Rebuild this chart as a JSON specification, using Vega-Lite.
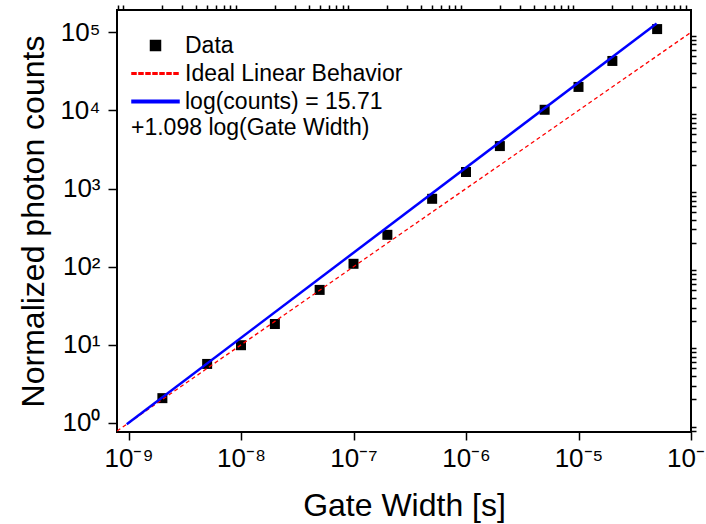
{
  "$schema": "https://vega.github.io/schema/vega-lite/v6.json",
  "width": 574,
  "height": 422,
  "autosize": {"type": "none"},
  "padding": {"left": 117, "top": 10, "right": 15, "bottom": 92},
  "background": "white",
  "config": {
    "font": "Liberation Sans",
    "view": {"stroke": "black", "strokeWidth": 2},
    "axis": {
      "labelColor": "black", "labelFont": "Liberation Sans", "labelFontSize": 26,
      "titleColor": "black", "titleFont": "Liberation Sans", "titleFontSize": 32, "titleFontWeight": "normal",
      "grid": false, "labelOverlap": false, "labelFlush": false
    }
  },
  "data": {
    "values": [
      {"series": "Ideal Linear Behavior", "gate": 7.9e-10, "counts": 0.79},
      {"series": "Ideal Linear Behavior", "gate": 1e-4, "counts": 100000},
      {"series": "log(counts) = 15.71", "gate": 9.64e-10, "counts": 0.962},
      {"series": "log(counts) = 15.71", "gate": 4.95e-5, "counts": 130000},
      {"series": "Data", "gate": 2e-9, "counts": 2.08},
      {"series": "Data", "gate": 5e-9, "counts": 5.7},
      {"series": "Data", "gate": 1e-8, "counts": 9.9},
      {"series": "Data", "gate": 2e-8, "counts": 18.5},
      {"series": "Data", "gate": 5e-8, "counts": 50.5},
      {"series": "Data", "gate": 1e-7, "counts": 109},
      {"series": "Data", "gate": 2e-7, "counts": 256},
      {"series": "Data", "gate": 5e-7, "counts": 740},
      {"series": "Data", "gate": 1e-6, "counts": 1630},
      {"series": "Data", "gate": 2e-6, "counts": 3500},
      {"series": "Data", "gate": 5e-6, "counts": 10200},
      {"series": "Data", "gate": 1e-5, "counts": 20000},
      {"series": "Data", "gate": 2e-5, "counts": 43000},
      {"series": "Data", "gate": 5e-5, "counts": 110000}
    ]
  },
  "layer": [
    {
      "transform": [{"filter": "datum.series === 'Data'"}],
      "mark": {"type": "point", "filled": true, "opacity": 1},
      "encoding": {
        "x": {"field": "gate", "type": "quantitative",
          "scale": {"type": "log", "domain": [7.9e-10, 0.0001], "nice": false},
          "axis": {"orient": "bottom", "title": "Gate Width [s]", "domain": false, "tickSize": 8, "tickColor": "black", "tickWidth": 1.5, "labelPadding": 5, "titlePadding": 19,
            "values": [1e-9, 1e-8, 1e-7, 1e-6, 1e-5, 1e-4],
            "labelExpr": "'10' + ['⁻⁹','⁻⁸','⁻⁷','⁻⁶','⁻⁵','⁻⁴'][round(log(datum.value)/LN10) + 9]"}},
        "y": {"field": "counts", "type": "quantitative",
          "scale": {"type": "log", "domain": [0.767, 193000], "nice": false},
          "axis": {"orient": "left", "title": "Normalized photon counts", "domain": false, "tickSize": 9, "tickColor": "black", "tickWidth": 1.5, "labelPadding": 8, "titlePadding": 9,
            "values": [1, 10, 100, 1000, 10000, 100000],
            "labelExpr": "'10' + ['⁰','¹','²','³','⁴','⁵'][round(log(datum.value)/LN10)]"}},
        "color": {"field": "series", "type": "nominal", "title": "+1.098 log(Gate Width)",
          "scale": {"domain": ["Data", "Ideal Linear Behavior", "log(counts) = 15.71"], "range": ["black", "#ff0000", "#0000ff"]},
          "legend": {
            "orient": "none", "legendX": 14, "legendY": 24, "padding": 0,
            "titleOrient": "bottom", "titleAnchor": "start", "titleFontSize": 23, "titleFontWeight": "normal",
            "titleColor": "black", "titleFont": "Liberation Sans", "titlePadding": 3, "titleLimit": 500,
            "labelFontSize": 23, "labelFont": "Liberation Sans", "labelColor": "black", "labelOffset": 5,
            "clipHeight": 23, "rowPadding": 4, "labelLimit": 500, "symbolOpacity": 1
          }},
        "shape": {"field": "series", "type": "nominal", "title": "+1.098 log(Gate Width)",
          "scale": {"domain": ["Data", "Ideal Linear Behavior", "log(counts) = 15.71"],
            "range": ["square",
              "M-1,-0.03H-0.83V0.03H-1Z M-0.702,-0.03H-0.532V0.03H-0.702Z M-0.404,-0.03H-0.234V0.03H-0.404Z M-0.106,-0.03H0.064V0.03H-0.106Z M0.192,-0.03H0.362V0.03H0.192Z M0.49,-0.03H0.66V0.03H0.49Z M0.788,-0.03H0.958V0.03H0.788Z",
              "M-1,-0.053H1V0.053H-1Z"]}},
        "size": {"field": "series", "type": "nominal", "title": "+1.098 log(Gate Width)",
          "scale": {"type": "ordinal", "domain": ["Data", "Ideal Linear Behavior", "log(counts) = 15.71"], "range": [100, 2209, 2209]}}
      }
    },
    {
      "transform": [{"filter": "datum.series === 'Ideal Linear Behavior'"}],
      "mark": {"type": "line", "clip": true, "strokeWidth": 1.3, "strokeDash": [4, 3]},
      "encoding": {
        "x": {"field": "gate", "type": "quantitative",
          "scale": {"type": "log", "domain": [7.9e-10, 0.0001], "nice": false},
          "axis": {"orient": "top", "title": null, "labels": false, "domain": false, "tickSize": 5, "tickColor": "black", "tickWidth": 1.5,
            "values": [8e-10, 9e-10, 2e-9, 3e-9, 4e-9, 5e-9, 6e-9, 7e-9, 8e-9, 9e-9, 2e-8, 3e-8, 4e-8, 5e-8, 6e-8, 7e-8, 8e-8, 9e-8, 2e-7, 3e-7, 4e-7, 5e-7, 6e-7, 7e-7, 8e-7, 9e-7, 2e-6, 3e-6, 4e-6, 5e-6, 6e-6, 7e-6, 8e-6, 9e-6, 2e-5, 3e-5, 4e-5, 5e-5, 6e-5, 7e-5, 8e-5, 9e-5]}},
        "y": {"field": "counts", "type": "quantitative",
          "scale": {"type": "log", "domain": [0.767, 193000], "nice": false},
          "axis": {"orient": "right", "title": null, "labels": false, "domain": false, "tickSize": 5, "tickColor": "black", "tickWidth": 1.5,
            "values": [0.8, 0.9, 2, 3, 4, 5, 6, 7, 8, 9, 20, 30, 40, 50, 60, 70, 80, 90, 200, 300, 400, 500, 600, 700, 800, 900, 2000, 3000, 4000, 5000, 6000, 7000, 8000, 9000, 20000, 30000, 40000, 50000, 60000, 70000, 80000, 90000]}},
        "color": {"field": "series", "type": "nominal", "title": "+1.098 log(Gate Width)",
          "scale": {"domain": ["Data", "Ideal Linear Behavior", "log(counts) = 15.71"], "range": ["black", "#ff0000", "#0000ff"]}}
      }
    },
    {
      "transform": [{"filter": "datum.series === 'log(counts) = 15.71'"}],
      "mark": {"type": "line", "clip": true, "strokeWidth": 2.5},
      "encoding": {
        "x": {"field": "gate", "type": "quantitative",
          "scale": {"type": "log", "domain": [7.9e-10, 0.0001], "nice": false}, "axis": null},
        "y": {"field": "counts", "type": "quantitative",
          "scale": {"type": "log", "domain": [0.767, 193000], "nice": false}, "axis": null},
        "color": {"field": "series", "type": "nominal", "title": "+1.098 log(Gate Width)",
          "scale": {"domain": ["Data", "Ideal Linear Behavior", "log(counts) = 15.71"], "range": ["black", "#ff0000", "#0000ff"]}}
      }
    }
  ],
  "resolve": {"axis": {"x": "independent", "y": "independent"}}
}
